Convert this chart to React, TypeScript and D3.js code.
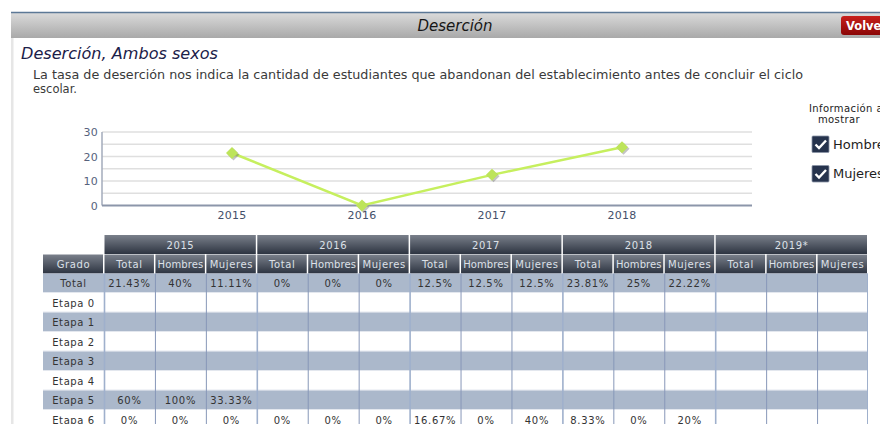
import * as d3 from "d3";

const chartYears = [2015, 2016, 2017, 2018];
const chartValues = [21.43, 0, 12.5, 23.81];
const yTicks = [0, 10, 20, 30];
const gridTicks = [5, 10, 15, 20, 25, 30];

const tableYears = ["2015", "2016", "2017", "2018", "2019*"];
const subCols = ["Total", "Hombres", "Mujeres"];
const grados = ["Total", "Etapa 0", "Etapa 1", "Etapa 2", "Etapa 3", "Etapa 4", "Etapa 5", "Etapa 6"];

const rowTotal = ["21.43%", "40%", "11.11%", "0%", "0%", "0%", "12.5%", "12.5%", "12.5%", "23.81%", "25%", "22.22%", "", "", ""];
const rowEtapa5 = ["60%", "100%", "33.33%", "", "", "", "", "", "", "", "", "", "", "", ""];
const rowEtapa6 = ["0%", "0%", "0%", "0%", "0%", "0%", "16.67%", "0%", "40%", "8.33%", "0%", "20%", "", "", ""];
const emptyRow: string[] = [];

const tableRows: Record<string, string[]> = {
  Total: rowTotal,
  "Etapa 5": rowEtapa5,
  "Etapa 6": rowEtapa6,
};

const FONT = "'DejaVu Sans', Verdana, sans-serif";

export default function App() {
  const W = 880;
  const H = 424;

  // chart scales
  const x = d3.scaleLinear().domain([2014, 2019]).range([102, 752]);
  const y = d3.scaleLinear().domain([0, 30]).range([205.5, 132]);
  const line = d3
    .line<number>()
    .x((_, i) => x(chartYears[i]))
    .y((d) => y(d));
  const diamond = d3.symbol().type(d3.symbolSquare).size(72)();

  // table scales
  const gradoX0 = 43;
  const groupX = d3.scaleBand<string>().domain(tableYears).range([104, 868]);
  const subX = d3.scaleBand<string>().domain(subCols).range([0, groupX.bandwidth()]);
  const rowY = d3.scaleBand<string>().domain(grados).range([273.5, 273.5 + 19.5 * grados.length]);
  const hdr1 = { y0: 235, y1: 254 };
  const hdr2 = { y0: 254.5, y1: 273.5 };

  const cols = tableYears.flatMap((yr) => subCols.map((s) => ({ yr, s, x0: groupX(yr)! + subX(s)! })));

  return (
    <svg width={W} height={H} style={{ position: "absolute", left: 0, top: 0 }} fontFamily={FONT}>
      <defs>
        <linearGradient id="bar" x1="0" y1="0" x2="0" y2="1">
          <stop offset="0" stopColor="#dcdcdc" />
          <stop offset="1" stopColor="#a9a9a9" />
        </linearGradient>
        <linearGradient id="btn" x1="0" y1="0" x2="0" y2="1">
          <stop offset="0" stopColor="#c8201c" />
          <stop offset="1" stopColor="#8a0606" />
        </linearGradient>
        <linearGradient id="th" x1="0" y1="0" x2="0" y2="1">
          <stop offset="0" stopColor="#7a808b" />
          <stop offset="1" stopColor="#2d3441" />
        </linearGradient>
      </defs>
      <rect width={W} height={H} fill="#fff" />

      {/* header bar */}
      <rect x={11} y={12} width={W - 11} height={26} fill="url(#bar)" />
      <line x1={11} x2={W} y1={12.5} y2={12.5} stroke="#5c7896" strokeWidth={1.5} />
      <text x={455} y={31} textAnchor="middle" fontSize={15} fontStyle="italic" fill="#161616">
        Deserción
      </text>
      <rect x={841} y={16} width={50} height={19} rx={3} fill="url(#btn)" />
      <text x={846} y={30} fontSize={11.5} fontWeight="bold" fill="#fff">
        Volver
      </text>
      <rect x={11} y={38} width={2.5} height={H - 38} fill="#e6e6e6" />

      {/* titles */}
      <text x={21} y={59} fontSize={15.5} fontStyle="italic" fill="#1b2048" textLength={197} lengthAdjust="spacingAndGlyphs">
        Deserción, Ambos sexos
      </text>
      <text x={33} y={79} fontSize={11.5} fill="#3a3a3a" textLength={770} lengthAdjust="spacingAndGlyphs">
        La tasa de deserción nos indica la cantidad de estudiantes que abandonan del establecimiento antes de concluir el ciclo
      </text>
      <text x={33} y={93} fontSize={11.5} fill="#3a3a3a">
        escolar.
      </text>

      {/* chart */}
      {gridTicks.map((t) => (
        <line key={t} x1={x(2014)} x2={x(2019)} y1={y(t)} y2={y(t)} stroke="#dfdfdf" strokeWidth={1.5} />
      ))}
      <line x1={x(2014)} x2={x(2014)} y1={y(30)} y2={y(0)} stroke="#a3abbb" strokeWidth={1.5} />
      <line x1={x(2014)} x2={x(2019)} y1={y(0)} y2={y(0)} stroke="#8c96aa" strokeWidth={2} />
      {yTicks.map((t) => (
        <text key={t} x={98} y={y(t) + 4} textAnchor="end" fontSize={11} fill="#56627c" letterSpacing={0.3}>
          {t}
        </text>
      ))}
      {chartYears.map((yr) => (
        <text key={yr} x={x(yr)} y={219} textAnchor="middle" fontSize={11} fill="#44506a" letterSpacing={0.3}>
          {yr}
        </text>
      ))}
      <path d={line(chartValues) ?? ""} fill="none" stroke="#c6ef5e" strokeWidth={2.5} />
      {chartValues.map((v, i) => (
        <g key={i}>
          <path d={diamond ?? ""} transform={`translate(${x(chartYears[i]) + 1.5},${y(v) + 1.5}) rotate(45)`} fill="#555" opacity={0.35} />
          <path d={diamond ?? ""} transform={`translate(${x(chartYears[i])},${y(v)}) rotate(45)`} fill="#bde45a" />
        </g>
      ))}

      {/* legend */}
      <text x={809} y={112} fontSize={10} fill="#222" letterSpacing={0.4}>
        Información a
      </text>
      <text x={839} y={123} textAnchor="middle" fontSize={10} fill="#222" letterSpacing={0.4}>
        mostrar
      </text>
      {["Hombres", "Mujeres"].map((lab, i) => {
        const by = 136 + i * 29.5;
        return (
          <g key={lab}>
            <rect x={812} y={by} width={17} height={16.5} fill="#26334d" stroke="#8a94a6" strokeWidth={0.8} rx={1} />
            <path d={`M${815.5},${by + 8.5} L${819},${by + 12} L${826},${by + 4.5}`} fill="none" stroke="#fff" strokeWidth={2.4} />
            <text x={833} y={by + 12.5} fontSize={13} fill="#1e1e1e">
              {lab}
            </text>
          </g>
        );
      })}

      {/* table: header row 1 */}
      {tableYears.map((yr) => (
        <g key={yr}>
          <rect x={groupX(yr)! + 0.5} y={hdr1.y0} width={groupX.bandwidth() - 1.5} height={hdr1.y1 - hdr1.y0} fill="url(#th)" />
          <text x={groupX(yr)! + groupX.bandwidth() / 2} y={hdr1.y0 + 13.5} textAnchor="middle" fontSize={10} fill="#dde1e8" letterSpacing={0.6}>
            {yr}
          </text>
        </g>
      ))}
      {/* header row 2 */}
      <rect x={gradoX0} y={hdr2.y0} width={groupX(tableYears[0])! - gradoX0 - 1} height={hdr2.y1 - hdr2.y0} fill="url(#th)" />
      <text x={(gradoX0 + groupX(tableYears[0])!) / 2} y={hdr2.y0 + 13.5} textAnchor="middle" fontSize={10} fill="#dde1e8" letterSpacing={0.6}>
        Grado
      </text>
      {cols.map((c) => (
        <g key={c.yr + c.s}>
          <rect x={c.x0 + 0.5} y={hdr2.y0} width={subX.bandwidth() - 1.5} height={hdr2.y1 - hdr2.y0} fill="url(#th)" />
          <text x={c.x0 + subX.bandwidth() / 2} y={hdr2.y0 + 13.5} textAnchor="middle" fontSize={10} fill="#dde1e8" letterSpacing={c.s === "Hombres" ? 0.1 : 0.6}>
            {c.s}
          </text>
        </g>
      ))}

      {/* body rows */}
      {grados.map((g, ri) => {
        const vals = tableRows[g] ?? emptyRow;
        const y0 = rowY(g)!;
        const h = rowY.bandwidth();
        return (
          <g key={g}>
            <rect x={gradoX0} y={y0} width={868 - gradoX0} height={h} fill={ri % 2 === 0 ? "#abb8cb" : "#ffffff"} />
            <line x1={gradoX0} x2={868} y1={y0 + h - 0.5} y2={y0 + h - 0.5} stroke="#e3e7ee" strokeWidth={1} />
            <text x={(gradoX0 + groupX(tableYears[0])!) / 2} y={y0 + 13.5} textAnchor="middle" fontSize={10} fill="#333" letterSpacing={0.6}>
              {g}
            </text>
            {cols.map((c, ci) => (
              <text key={ci} x={c.x0 + subX.bandwidth() / 2} y={y0 + 13.5} textAnchor="middle" fontSize={10} fill="#333" letterSpacing={0.7}>
                {vals[ci] ?? ""}
              </text>
            ))}
          </g>
        );
      })}
      {/* vertical cell borders */}
      {cols.map((c, ci) => (
        <line
          key={ci}
          x1={c.x0 + 0.5}
          x2={c.x0 + 0.5}
          y1={rowY(grados[0])!}
          y2={H}
          stroke={subCols.indexOf(c.s) === 0 ? "#9fb0cc" : "#8797b8"}
          strokeWidth={subCols.indexOf(c.s) === 0 ? 1.6 : 1}
        />
      ))}
      <line x1={867.5} x2={867.5} y1={rowY(grados[0])!} y2={H} stroke="#9fb0cc" strokeWidth={1} />
    </svg>
  );
}
